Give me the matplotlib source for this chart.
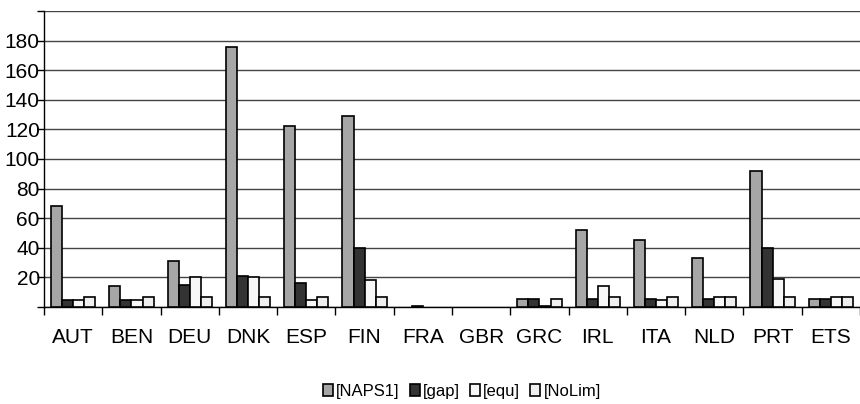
import numpy as np
import matplotlib
matplotlib.use("Agg")
import matplotlib.pyplot as plt

plt.rcParams['font.family'] = ['Liberation Sans', 'DejaVu Sans']

countries = ['AUT', 'BEN', 'DEU', 'DNK', 'ESP', 'FIN', 'FRA',
             'GBR', 'GRC', 'IRL', 'ITA', 'NLD', 'PRT', 'ETS']
naps1 = [68, 14, 31, 176, 122, 129, 0, 0, 5.5, 52, 45, 33, 92, 5.5]
gap = [5, 5, 15, 21, 16.5, 40, 1, 0, 5.5, 5.5, 5.5, 5.5, 40, 5.5]
equ = [5, 5, 20, 20, 5, 18, 0, 0, 1, 14.5, 5, 6.5, 19, 6.5]
nolim = [6.5, 6.5, 6.5, 6.5, 6.5, 6.5, 0, 0, 5.5, 6.5, 6.5, 6.5, 6.5, 6.5]

series = [('[NAPS1]', naps1, '#a6a6a6'),
          ('[gap]', gap, '#333333'),
          ('[equ]', equ, '#f7f7f7'),
          ('[NoLim]', nolim, '#efefef')]

fig = plt.figure(figsize=(8.6, 4.04), dpi=100)
ax = fig.add_axes([0.0512, 0.2401, 0.9488, 0.7327])

x = np.arange(len(countries))
w = 0.19
for i, (name, vals, col) in enumerate(series):
    v = np.array(vals, dtype=float)
    v[v == 0] = np.nan  # empty cells: no bar at all
    ax.bar(x + (i - 1.5) * w, v, w, color=col, edgecolor='black',
           linewidth=1.2, label=name, zorder=3)

ax.set_xlim(-0.5, len(countries) - 0.5)
ax.set_ylim(0, 200)
ax.set_yticks(np.arange(0, 201, 20))
ax.set_yticklabels([''] + [str(v) for v in range(20, 181, 20)] + [''])
ax.yaxis.grid(True, color='#444444', linewidth=1, zorder=0)

# category labels centred, ticks on the boundaries
ax.set_xticks(np.arange(len(countries) + 1) - 0.5)
ax.set_xticklabels([])
ax.set_xticks(x, minor=True)
ax.set_xticklabels(countries, minor=True)
ax.tick_params(axis='x', which='major', length=6, width=1, color='black', direction='out')
ax.tick_params(axis='x', which='minor', length=0, pad=15, labelsize=15)
ax.tick_params(axis='y', length=5, width=1, labelsize=15, pad=-2)

for s in ['top', 'right']:
    ax.spines[s].set_visible(False)
ax.spines['left'].set_linewidth(1)
ax.spines['bottom'].set_linewidth(1)

ax.legend(loc='center', bbox_to_anchor=(0.512, -0.285), ncol=4,
          frameon=False, fontsize=12, handlelength=0.6, handleheight=0.7,
          handletextpad=0.2, columnspacing=0.6)

fig.savefig('out.png', dpi=100)
